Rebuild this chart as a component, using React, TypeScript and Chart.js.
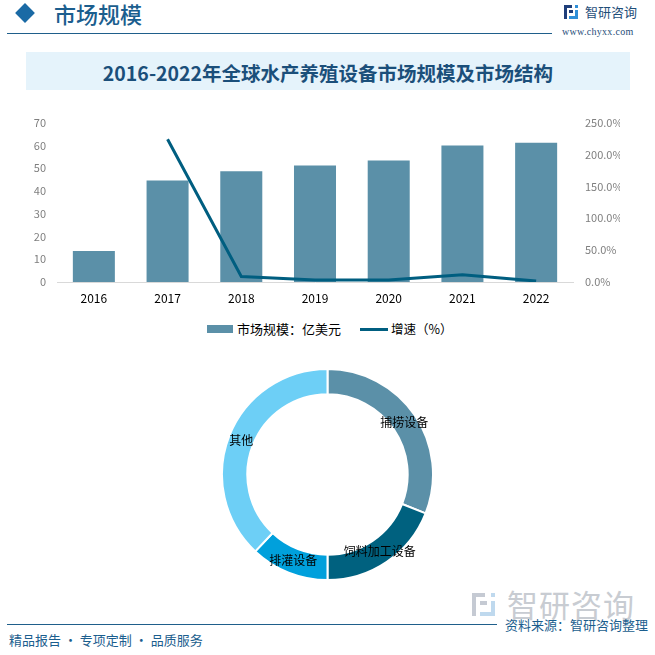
import React, { useEffect, useRef } from "react";
import { Chart, registerables } from "chart.js";

Chart.register(...registerables);

// ---- data ----
const years = ["2016", "2017", "2018", "2019", "2020", "2021", "2022"];
const marketSize = [13.6, 44.6, 48.6, 51.2, 53.4, 59.9, 61.2]; // 亿美元
const growthRate = [null, 224, 8.5, 3.2, 3.0, 11.5, 1.5]; // %
const leftAxisMax = 70;
const leftAxisStep = 10;
const rightAxisMax = 250;
const rightAxisStep = 50;

const structureLabels = ["捕捞设备", "饲料加工设备", "排灌设备", "其他"];
const structureShares = [31, 19, 12, 38];

const barLegend = "市场规模：亿美元";
const lineLegend = "增速（%）";
const titleText = "2016-2022年全球水产养殖设备市场规模及市场结构";

// ---- styles ----
const BAR_COLOR = "#5B90A8";
const LINE_COLOR = "#005E80";
const SLICE_COLORS = ["#5B90A8", "#00617F", "#00A0DC", "#6DCFF6"];
const CJK = '"Noto Sans CJK SC", "Noto Sans", sans-serif';
const BRAND = "#1B5E8E";

const arcLabelPlugin = {
  id: "arcLabels",
  afterDatasetsDraw(chart: any) {
    const ctx = chart.ctx;
    const meta = chart.getDatasetMeta(0);
    ctx.save();
    ctx.font = `12px ${CJK}`;
    ctx.fillStyle = "#000";
    ctx.textAlign = "center";
    ctx.textBaseline = "middle";
    meta.data.forEach((arc: any, i: number) => {
      const p = arc.tooltipPosition(false);
      ctx.fillText(chart.data.labels[i], p.x, p.y);
    });
    ctx.restore();
  },
};

function BarLineChart() {
  const ref = useRef<HTMLCanvasElement | null>(null);
  useEffect(() => {
    if (!ref.current) return;
    const chart = new Chart(ref.current, {
      data: {
        labels: years,
        datasets: [
          {
            type: "line",
            label: lineLegend,
            data: growthRate,
            yAxisID: "y1",
            borderColor: LINE_COLOR,
            backgroundColor: LINE_COLOR,
            borderWidth: 3,
            pointRadius: 0,
            tension: 0,
            order: 0,
          } as any,
          {
            type: "bar",
            label: barLegend,
            data: marketSize,
            yAxisID: "y",
            backgroundColor: BAR_COLOR,
            barPercentage: 0.57,
            categoryPercentage: 1,
            order: 1,
          } as any,
        ],
      },
      options: {
        animation: false,
        responsive: false,
        maintainAspectRatio: false,
        layout: { padding: { top: 6, left: 0, right: 0, bottom: 0 } },
        plugins: { legend: { display: false }, tooltip: { enabled: false } },
        scales: {
          x: {
            grid: { display: false, drawTicks: false },
            border: { display: true, color: "#D9D9D9", width: 1 },
            ticks: { color: "#000", font: { size: 12, family: CJK }, padding: 9 },
            afterFit(s: any) {
              s.height = 28;
            },
          },
          y: {
            position: "left",
            min: 0,
            max: leftAxisMax,
            ticks: {
              stepSize: leftAxisStep,
              color: "#7F7F7F",
              font: { size: 11, family: CJK },
              padding: 11,
            },
            grid: { display: false, drawTicks: false },
            border: { display: false },
            afterFit(s: any) {
              s.width = 37;
            },
          },
          y1: {
            position: "right",
            min: 0,
            max: rightAxisMax,
            ticks: {
              stepSize: rightAxisStep,
              color: "#7F7F7F",
              font: { size: 11, family: CJK },
              padding: 12,
              callback: (v: any) => Number(v).toFixed(1) + "%",
            },
            grid: { display: false, drawTicks: false },
            border: { display: false },
            afterFit(s: any) {
              s.width = 47;
            },
          },
        },
      } as any,
    });
    return () => chart.destroy();
  }, []);
  return (
    <canvas
      ref={ref}
      width={600}
      height={206}
      style={{ position: "absolute", left: 20, top: 104, width: 600, height: 206 }}
    />
  );
}

function DoughnutChart() {
  const ref = useRef<HTMLCanvasElement | null>(null);
  useEffect(() => {
    if (!ref.current) return;
    const chart = new Chart(ref.current, {
      type: "doughnut",
      data: {
        labels: structureLabels,
        datasets: [
          {
            data: structureShares,
            backgroundColor: SLICE_COLORS,
            borderColor: "#FFFFFF",
            borderWidth: 2,
          },
        ],
      },
      options: {
        animation: false,
        responsive: false,
        maintainAspectRatio: false,
        cutout: "76%",
        layout: { padding: 0 },
        plugins: { legend: { display: false }, tooltip: { enabled: false } },
      },
      plugins: [arcLabelPlugin],
    });
    return () => chart.destroy();
  }, []);
  return (
    <canvas
      ref={ref}
      width={213}
      height={213}
      style={{ position: "absolute", left: 221, top: 368, width: 213, height: 213 }}
    />
  );
}

function LogoIcon({ size, color1, color2 }: { size: number; color1: string; color2: string }) {
  const u = size / 7;
  return (
    <div style={{ position: "relative", width: size, height: size }}>
      <div style={{ position: "absolute", left: 0, top: 0, width: 4 * u, height: 1.3 * u, background: color1 }} />
      <div style={{ position: "absolute", left: 0, top: 0, width: 1.3 * u, height: 7 * u, background: color1 }} />
      <div style={{ position: "absolute", left: 2.5 * u, top: 2.5 * u, width: 2 * u, height: 1.3 * u, background: color1 }} />
      <div style={{ position: "absolute", left: 5.7 * u, top: 0, width: 1.3 * u, height: 1.3 * u, background: color2 }} />
      <div style={{ position: "absolute", left: 5.7 * u, top: 2.5 * u, width: 1.3 * u, height: 4.5 * u, background: color2 }} />
      <div style={{ position: "absolute", left: 2.5 * u, top: 5.7 * u, width: 4.5 * u, height: 1.3 * u, background: color2 }} />
    </div>
  );
}

export default function App() {
  return (
    <div
      style={{
        position: "absolute",
        left: 0,
        top: 0,
        width: 655,
        height: 655,
        background: "#FFFFFF",
        overflow: "hidden",
        fontFamily: CJK,
      }}
    >
      {/* header */}
      <div
        style={{
          position: "absolute",
          left: 18,
          top: 6,
          width: 14,
          height: 14,
          background: "#1A6AA5",
          transform: "rotate(45deg)",
        }}
      />
      <div
        style={{
          position: "absolute",
          left: 54,
          top: 0,
          fontSize: 22,
          lineHeight: "26px",
          color: BRAND,
          fontWeight: 500,
          fontFamily: CJK,
        }}
      >
        市场规模
      </div>
      <div style={{ position: "absolute", left: 7, top: 32.5, width: 545, height: 1.5, background: "#1F5F8B" }} />
      <div style={{ position: "absolute", left: 564, top: 5 }}>
        <LogoIcon size={14} color1="#1F3E7A" color2="#2F8FD8" />
      </div>
      <div
        style={{
          position: "absolute",
          left: 585,
          top: 3,
          fontSize: 13,
          lineHeight: "18px",
          color: "#1F4E79",
          fontFamily: CJK,
        }}
      >
        智研咨询
      </div>
      <div
        style={{
          position: "absolute",
          left: 562,
          top: 26,
          fontSize: 10,
          lineHeight: "12px",
          color: "#1F4E79",
          fontFamily: '"Liberation Serif", "DejaVu Serif", serif',
          letterSpacing: 0.3,
        }}
      >
        www.chyxx.com
      </div>

      {/* title banner */}
      <div
        style={{
          position: "absolute",
          left: 26,
          top: 52,
          width: 604,
          height: 38,
          background: "#E5F3FB",
          display: "flex",
          alignItems: "center",
          justifyContent: "center",
        }}
      >
        <span
          style={{
            fontSize: 19.5,
            fontWeight: 700,
            color: "#1B4F7A",
            fontFamily: CJK,
            lineHeight: "24px",
            marginTop: 4,
          }}
        >
          {titleText}
        </span>
      </div>

      <BarLineChart />

      {/* legend */}
      <div style={{ position: "absolute", left: 207, top: 325, width: 26, height: 8, background: BAR_COLOR }} />
      <div
        style={{
          position: "absolute",
          left: 237,
          top: 320,
          fontSize: 13,
          lineHeight: "18px",
          color: "#000",
          fontFamily: CJK,
        }}
      >
        {barLegend}
      </div>
      <div style={{ position: "absolute", left: 360, top: 327.5, width: 28, height: 3, background: LINE_COLOR }} />
      <div
        style={{
          position: "absolute",
          left: 391,
          top: 320,
          fontSize: 12.5,
          lineHeight: "18px",
          color: "#000",
          fontFamily: CJK,
        }}
      >
        {lineLegend}
      </div>

      <DoughnutChart />

      {/* footer */}
      <div style={{ position: "absolute", left: 472, top: 593 }}>
        <LogoIcon size={23} color1="#C5CAD3" color2="#BFD9EE" />
      </div>
      <div
        style={{
          position: "absolute",
          left: 507,
          top: 586,
          fontSize: 31,
          lineHeight: "36px",
          color: "#C8CCD2",
          fontFamily: CJK,
          letterSpacing: 1,
        }}
      >
        智研咨询
      </div>
      <div style={{ position: "absolute", left: 7, top: 623.5, width: 490, height: 1.5, background: "#1F5F8B" }} />
      <div
        style={{
          position: "absolute",
          left: 505,
          top: 616,
          fontSize: 13,
          lineHeight: "18px",
          color: BRAND,
          fontFamily: CJK,
        }}
      >
        资料来源：智研咨询整理
      </div>
      <div
        style={{
          position: "absolute",
          left: 9,
          top: 631,
          fontSize: 13,
          lineHeight: "18px",
          color: BRAND,
          fontFamily: CJK,
        }}
      >
        精品报告 · 专项定制 · 品质服务
      </div>
    </div>
  );
}
